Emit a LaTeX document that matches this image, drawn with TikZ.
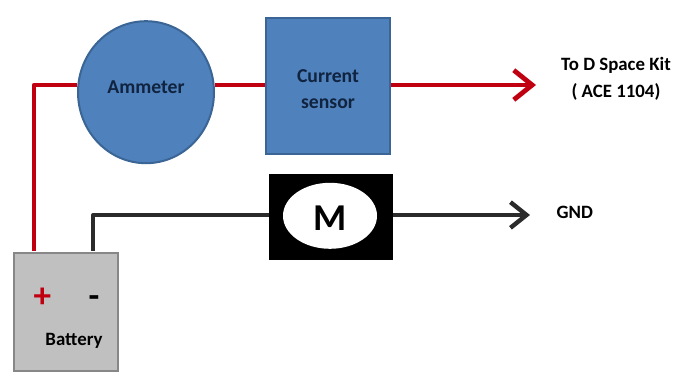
\documentclass[tikz,border=0pt]{standalone}
\usepackage{fontspec}
\setmainfont{Carlito}
\usetikzlibrary{arrows.meta,shapes.geometric}
\definecolor{wirered}{HTML}{C00010}
\definecolor{wireblack}{HTML}{2B2B2B}
\definecolor{boxblue}{HTML}{4F81BD}
\definecolor{edgeblue}{HTML}{3A6595}
\definecolor{battgray}{HTML}{C0C0C0}
\definecolor{edgegray}{HTML}{878787}
\definecolor{labelblue}{HTML}{10233F}
\tikzset{>={Straight Barb[length=4.6mm,width=7.4mm,line width=1.2mm]}}
\tikzset{
    redwire/.style={wirered, line width=1.15mm},
    blackwire/.style={wireblack, line width=0.95mm, >={Straight Barb[length=4mm,width=6.4mm,line width=1.1mm]}},
    bluelabel/.style={text=labelblue, font=\bfseries\fontsize{14}{19}\selectfont, align=center},
    blacklabel/.style={text=black, font=\bfseries\fontsize{13.4}{19}\selectfont, align=center}
}

\begin{document}
\begin{tikzpicture}
    \useasboundingbox (0,0) rectangle (16.85,9.375);

    % blocks
    \node[ellipse, draw=edgeblue, fill=boxblue, line width=0.5mm, inner sep=0, minimum width=3.4cm, minimum height=3.55cm] (ammeter) at (3.65,7.07) {};
    \node[rectangle, draw=edgeblue, fill=boxblue, line width=0.5mm, inner sep=0, minimum width=3.1cm, minimum height=3.4cm] (sensor) at (8.2,7.225) {};
    \node[rectangle, fill=black, inner sep=0, minimum width=3.1cm, minimum height=2.15cm] (motor) at (8.27,3.95) {};
    \node[ellipse, fill=white, inner sep=0, minimum width=2.35cm, minimum height=1.65cm] (rotor) at (8.25,3.98) {};
    \node[rectangle, draw=edgegray, fill=battgray, line width=0.6mm, inner sep=0, minimum width=2.6cm, minimum height=2.95cm] (battery) at (1.65,1.58) {};

    % free ends
    \coordinate (kit) at (13.4,7.25);
    \coordinate (gnd) at (13.25,4.0);
    \coordinate (plus) at (0.85,3.1);
    \coordinate (minus) at (2.33,3.1);

    % wires
    \draw[redwire, line join=round] (plus) |- (ammeter.174);
    \draw[redwire] (ammeter.6) -- (sensor.west |- ammeter.6);
    \draw[redwire, ->] (sensor.east |- kit) -- (kit);
    \draw[blackwire, line join=round] (minus) |- (motor.west |- gnd);
    \draw[blackwire, ->] (motor.east |- gnd) -- (gnd);

    % labels
    \node[bluelabel] (ammeterlabel) at (3.65,7.2) {Ammeter};
    \node[bluelabel] (sensorlabel) at (8.2,7.15) {Current\\sensor};
    \node[font=\bfseries\fontsize{27}{27}\selectfont, text=black] (motorlabel) at (8.25,3.92) {M};
    \node[blacklabel] (kitlabel) at (15.4,7.4) {To D Space Kit\\( ACE 1104)};
    \node[blacklabel] (gndlabel) at (14.37,4.07) {GND};
    \node[text=wirered, font=\bfseries\fontsize{25}{25}\selectfont] (pluslabel) at (1.06,1.93) {+};
    \node[text=black, font=\bfseries\fontsize{25}{25}\selectfont] (minuslabel) at (2.35,1.83) {-};
    \node[blacklabel] (batterylabel) at (1.85,0.85) {Battery};
\end{tikzpicture}
\end{document}
